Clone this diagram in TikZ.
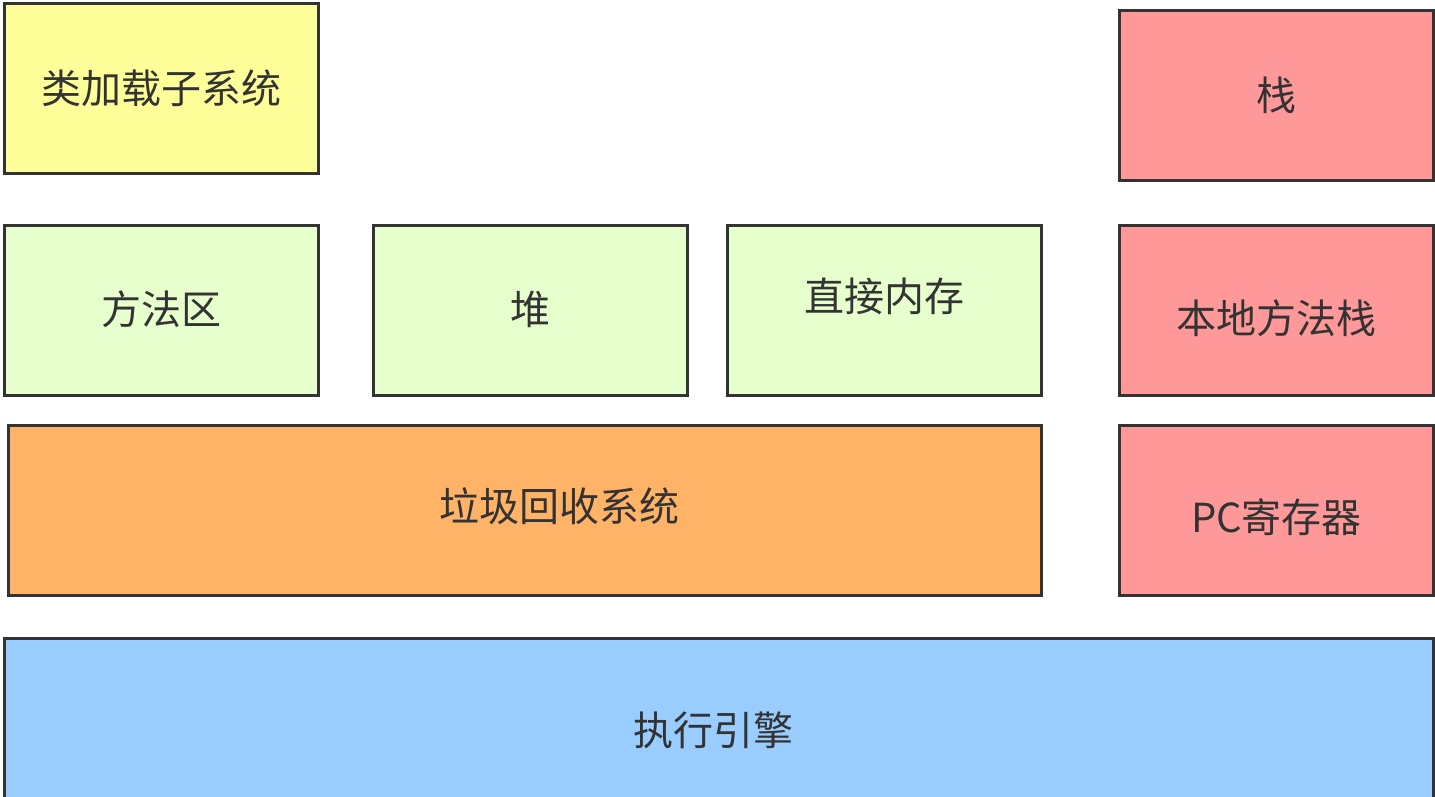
\documentclass[tikz,border=0pt]{standalone}
\usepackage{fontspec}
\usepackage{xcolor}
\setmainfont{Noto Sans CJK SC}
\usetikzlibrary{positioning}
\definecolor{loaderfill}{HTML}{FFFF99}
\definecolor{areafill}{HTML}{E6FFCC}
\definecolor{threadfill}{HTML}{FF9999}
\definecolor{gcfill}{HTML}{FFB366}
\definecolor{enginefill}{HTML}{99CCFF}
\definecolor{edgec}{HTML}{333333}
\definecolor{textc}{HTML}{333333}

\begin{document}
\begin{tikzpicture}[
  x=1pt, y=-1pt,
  box/.style={draw=edgec, line width=3pt, inner sep=0pt, text=textc,
    minimum width=314pt, minimum height=170pt, font=\fontsize{40}{48}\selectfont},
  every label/.style={text=textc, inner sep=0pt, font=\fontsize{40}{48}\selectfont},
  loader/.style={box, fill=loaderfill},
  area/.style={box, fill=areafill},
  thread/.style={box, fill=threadfill},
  gcbox/.style={box, fill=gcfill},
  engine/.style={box, fill=enginefill}
]
\useasboundingbox (0,0) rectangle (1435,796);
% top row
\node[loader] (loader) at (161,88) {类加载子系统};
\node[thread] (stack) at (1276.5,95) {\raisebox{-6pt}{栈}};
% runtime data areas
\node[area] (method) at (161,310) {\raisebox{5pt}{方法区}};
\node[area] (heap) at (530.5,310) {\raisebox{5pt}{堆}};
\node[area, label={[yshift=14pt]center:直接内存}] (direct) at (884,310) {};
\node[thread, label={[yshift=-8pt]center:本地方法栈}] (native) at (1276.5,310) {};
% gc and registers
\node[gcbox, minimum width=1033pt, label={[xshift=35pt, yshift=4pt]center:垃圾回收系统}] (gc) at (524.5,510) {};
\node[thread, label={[yshift=-7pt]center:PC寄存器}] (pc) at (1276.5,510) {};
% engine
\node[engine, minimum width=1429pt, minimum height=184pt, label={[xshift=-5pt]center:执行引擎}] (exec) at (718.5,730) {};
\end{tikzpicture}
\end{document}
